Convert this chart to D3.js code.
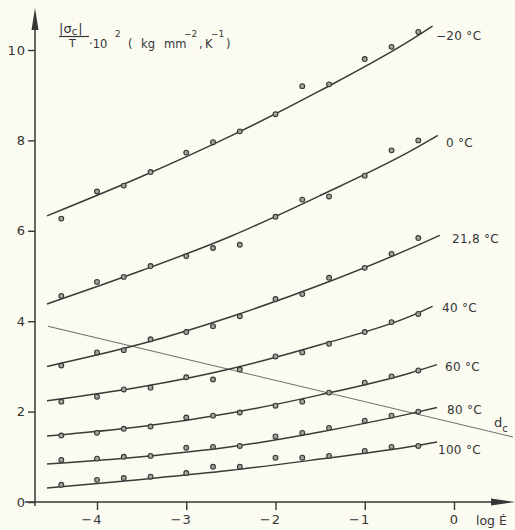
<!DOCTYPE html>
<html><head><meta charset="utf-8">
<script src="https://cdn.jsdelivr.net/npm/d3@7"></script>
<style>
html,body{margin:0;padding:0;background:#fbfbf2;}
svg{display:block;}
text{font-family:"DejaVu Sans","Liberation Sans",sans-serif;fill:#353535;}
</style></head>
<body>
<svg id="c" width="515" height="530"></svg>
<script>
// ---- data ----
const logE = [-4.4,-4.0,-3.7,-3.4,-3.0,-2.7,-2.4,-2.0,-1.7,-1.4,-1.0,-0.7,-0.4];
const seriesNames = ["−20 °C","0 °C","21,8 °C","40 °C","60 °C","80 °C","100 °C"];
const pM20  = [6.27,6.87,7.00,7.30,7.73,7.96,8.20,8.58,9.20,9.24,9.80,10.07,10.40];
const p0    = [4.56,4.87,4.98,5.22,5.44,5.62,5.69,6.31,6.69,6.76,7.22,7.78,8.00];
const p21   = [3.02,3.31,3.36,3.60,3.76,3.89,4.11,4.49,4.60,4.96,5.18,5.49,5.84];
const p40   = [2.22,2.33,2.49,2.53,2.76,2.71,2.93,3.22,3.31,3.50,3.76,3.98,4.16];
const p60   = [1.47,1.53,1.62,1.67,1.87,1.91,1.98,2.13,2.22,2.42,2.64,2.78,2.91];
const p80   = [0.93,0.96,1.00,1.02,1.20,1.22,1.24,1.45,1.53,1.64,1.80,1.91,2.00];
const p100  = [0.38,0.49,0.53,0.56,0.64,0.78,0.78,0.98,0.98,1.02,1.13,1.22,1.24];
// fitted curves (knots)
const fitX = [-4.56,-3.5,-2.5,-1.5,-0.5];
const fitEndX = [-0.24,-0.18,-0.16,-0.24,-0.19,-0.19,-0.19];
const fM20 = [6.33,7.20,8.10,9.10,10.20,10.53];
const f0   = [4.38,5.12,5.88,6.78,7.75,8.11];
const f21  = [3.00,3.50,4.10,4.80,5.60,5.90];
const f40  = [2.24,2.55,2.95,3.48,4.10,4.33];
const f60  = [1.46,1.67,1.97,2.37,2.85,3.04];
const f80  = [0.84,1.00,1.22,1.55,1.95,2.09];
const f100 = [0.31,0.50,0.70,0.95,1.22,1.33];
// d_c straight line
const dcX = [-4.55, 0.66];
const dcY = [3.89, 1.44];
const xTicks = [-4,-3,-2,-1,0];
const yTicks = [0,2,4,6,8,10];

const points = [pM20,p0,p21,p40,p60,p80,p100];
const fits = [fM20,f0,f21,f40,f60,f80,f100];

const svg = d3.select("#c");
const x = d3.scaleLinear().domain([-4,0]).range([97,454]);
const y = d3.scaleLinear().domain([0,10]).range([502,50]);
const ink = "#363636";

// axes
const gx = svg.append("g").attr("transform","translate(0,502)")
  .call(d3.axisBottom(x).tickValues(xTicks).tickSize(8).tickPadding(5)
    .tickFormat(d => d===0 ? "0" : "−"+Math.abs(d)));
gx.select(".domain").remove();
gx.selectAll(".tick line").attr("stroke",ink).attr("stroke-width",1.4);
gx.selectAll(".tick text").attr("font-size",13).attr("fill","#353535")
  .attr("font-family","DejaVu Sans").attr("letter-spacing",1)
  .attr("text-anchor",d=>d===0?"middle":"end").attr("dx",d=>d===0?0:5);
svg.append("line").attr("x1",25).attr("x2",500).attr("y1",502).attr("y2",502).attr("stroke",ink).attr("stroke-width",1.5);
svg.append("path").attr("d","M515,502 L491,498.5 L491,505.5 Z").attr("fill",ink);

const gy = svg.append("g").attr("transform","translate(35,0)")
  .call(d3.axisLeft(y).tickValues(yTicks).tickSize(7).tickPadding(2));
gy.select(".domain").remove();
gy.selectAll(".tick line").attr("stroke",ink).attr("stroke-width",1.4);
gy.selectAll(".tick text").attr("font-size",13).attr("fill","#353535")
  .attr("font-family","DejaVu Sans").attr("letter-spacing",1);
svg.append("line").attr("x1",35).attr("x2",35).attr("y1",506).attr("y2",22).attr("stroke",ink).attr("stroke-width",1.5);
svg.append("path").attr("d","M35,8 L31.5,30 L38.5,30 Z").attr("fill",ink);

// d_c line
svg.append("line")
  .attr("x1",x(dcX[0])).attr("y1",y(dcY[0])).attr("x2",x(dcX[1])).attr("y2",y(dcY[1]))
  .attr("stroke","#6e6e6e").attr("stroke-width",1.1);

// fitted curves
const line = d3.line().x(d=>x(d[0])).y(d=>y(d[1])).curve(d3.curveMonotoneX);
fits.forEach((f,i)=>{
  const xs = fitX.concat([fitEndX[i]]);
  const pts = f.map((v,j)=>[xs[j],v]);
  svg.append("path").attr("d",line(pts)).attr("fill","none")
    .attr("stroke","#3a3a3a").attr("stroke-width",1.5);
});

// markers
points.forEach(arr=>{
  svg.append("g").selectAll("circle").data(arr).join("circle")
    .attr("cx",(d,j)=>x(logE[j])).attr("cy",d=>y(d)).attr("r",2.4)
    .attr("fill","#a3a39a").attr("stroke","#363636").attr("stroke-width",1.1);
});

// series labels
const labelPos = [[436,40],[446,147],[452,243],[442,312],[445,371],[447,414],[438,454]];
seriesNames.forEach((s,i)=>{
  svg.append("text").attr("x",labelPos[i][0]).attr("y",labelPos[i][1])
    .attr("font-size",12).attr("letter-spacing",0.3).text(s);
});
const dcT = svg.append("text").attr("x",494).attr("y",427).attr("font-size",13);
dcT.append("tspan").text("d");
dcT.append("tspan").attr("font-size",10).attr("dy",5).text("c");

// y-axis title
const num = svg.append("text").attr("y",33).attr("font-size",13);
num.append("tspan").attr("x",59).text("|σ");
num.append("tspan").attr("font-size",10).attr("dy",2).text("c");
num.append("tspan").attr("dy",-2).attr("dx",1).text("|");
svg.append("line").attr("x1",59).attr("x2",89).attr("y1",36.5).attr("y2",36.5).attr("stroke",ink).attr("stroke-width",1.2);
svg.append("text").attr("x",69).attr("y",47).attr("font-size",11).text("T");
const unit = svg.append("text").attr("y",48).attr("font-size",11.5);
unit.append("tspan").attr("x",89).text("·10");
unit.append("tspan").attr("x",115).attr("dy",-11).attr("font-size",9).text("2");
unit.append("tspan").attr("x",128).attr("dy",11).text("(");
unit.append("tspan").attr("x",141).text("kg");
unit.append("tspan").attr("x",164).text("mm");
unit.append("tspan").attr("x",184).attr("dy",-11).attr("font-size",9).text("−2");
unit.append("tspan").attr("x",199).attr("dy",11).text(",");
unit.append("tspan").attr("x",205).text("K");
unit.append("tspan").attr("x",211).attr("dy",-11).attr("font-size",9).text("−1");
unit.append("tspan").attr("x",226).attr("dy",11).text(")");

// x-axis title
const xt = svg.append("text").attr("x",476).attr("y",525).attr("font-size",12.5);
xt.append("tspan").text("log ");
xt.append("tspan").text("Ė");
</script>
</body></html>
